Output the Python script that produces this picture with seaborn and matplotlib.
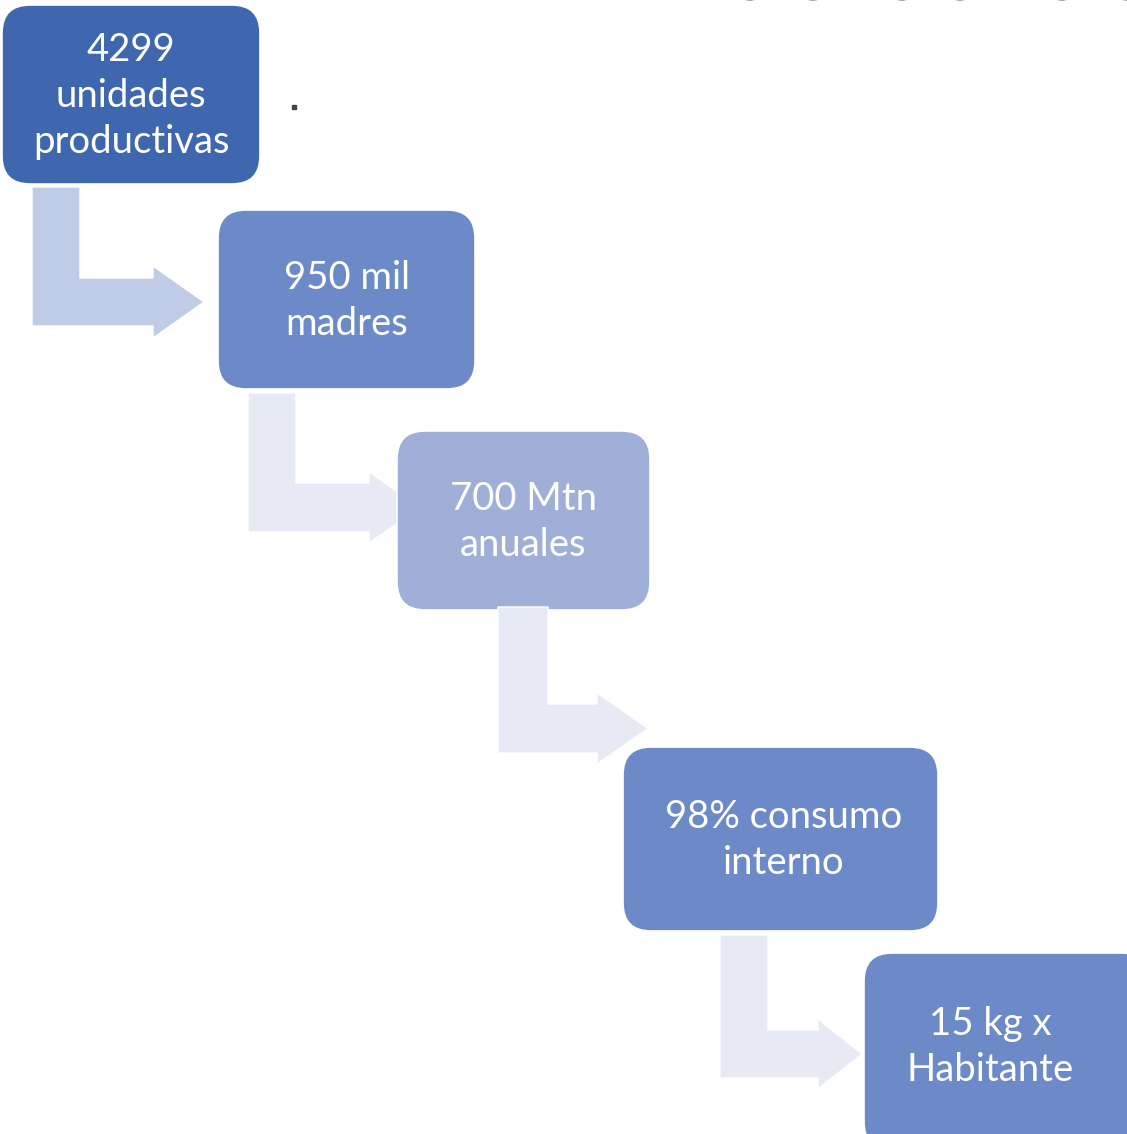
import matplotlib
matplotlib.use("Agg")
import matplotlib.pyplot as plt
import seaborn as sns
from matplotlib.patches import FancyBboxPatch, Polygon, Ellipse

# --- DATA ---
labels = [
    "4299\nunidades\nproductivas",
    "950 mil\nmadres",
    "700 Mtn\nanuales",
    "98% consumo\ninterno",
    "15 kg x\nHabitante",
]
box_colors = ["#3F67B0", "#6C89C8", "#A0AFD8", "#6C89C8", "#6C89C8"]
arrow_colors = ["#C0CBE5", "#E7EAF4", "#E7EAF4", "#E7EAF4"]

# --- LAYOUT (pixel coords, y down) ---
# x0, y0, x1, y1
boxes = [
    (2, 5, 260, 184),
    (218, 210, 475, 389),
    (397, 431, 650, 610),
    (623, 747, 938, 931),
    (864, 953, 1150, 1150),
]
# text centres
text_pos = [(131, 96), (347, 301), (523, 522), (784, 840), (990, 1047)]
# vertical bar x0, x1, top / horizontal bar top, bottom / head start, head top, head bottom, tip
arrows = [
    (32, 80, 187, 278, 326, 153, 266, 338, 204),
    (248, 296, 393, 483, 532, 369, 472, 543, 420),
    (498, 548, 607, 704, 753, 597, 693, 764, 648),
    (720, 768, 935, 1030, 1078, 818, 1019, 1089, 862),
]

sns.set_style("white")
plt.rcParams['font.family'] = ['Lato', 'DejaVu Sans']

fig = plt.figure(figsize=(11.27, 11.34), dpi=100)
ax = fig.add_axes([0, 0, 1, 1])
ax.set_xlim(0, 1127)
ax.set_ylim(1134, 0)
ax.axis("off")

z = 1
for i, (label, (x0, y0, x1, y1)) in enumerate(zip(labels, boxes)):
    box = FancyBboxPatch((x0, y0), x1 - x0, y1 - y0,
                         boxstyle="round,pad=0,rounding_size=28",
                         facecolor=box_colors[i], edgecolor="white", linewidth=1.2, zorder=z)
    ax.add_patch(box)
    cx, cy = text_pos[i]
    ax.text(cx, cy, label, ha="center", va="center", color="white",
            fontsize=27.5, linespacing=1.36, zorder=z + 0.5)
    z += 1
    if i < len(arrows):
        vx0, vx1, vtop, htop, hbot, hs, ht, hb, tip = arrows[i]
        pts = [(vx0, vtop), (vx1, vtop), (vx1, htop), (hs, htop), (hs, ht),
               (tip, (ht + hb) / 2), (hs, hb), (hs, hbot), (vx0, hbot)]
        ax.add_patch(Polygon(pts, closed=True, facecolor=arrow_colors[i],
                             edgecolor="white", linewidth=1, zorder=z))
        z += 1

# stray dot and clipped shapes at the top edge
ax.plot(294, 107, marker="s", markersize=2.5, color="#444444", zorder=z)
for gx in [750, 813, 902, 960, 1062, 1127]:
    ax.add_patch(Ellipse((gx, -3), 14, 8, facecolor="#a8a8a8", edgecolor="none", zorder=z))

plt.savefig("out.png", dpi=100)
